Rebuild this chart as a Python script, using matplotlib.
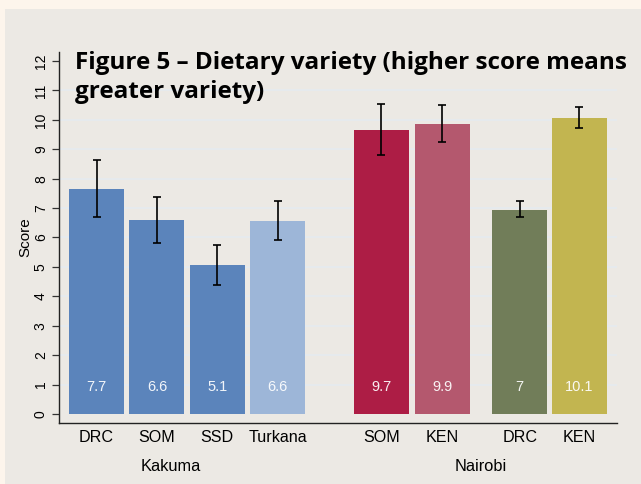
import matplotlib
matplotlib.use("Agg")
import matplotlib.pyplot as plt
from matplotlib.patches import Rectangle

# ---- data ----
groups = ["Kakuma", "Nairobi"]
categories = ["DRC", "SOM", "SSD", "Turkana", "SOM", "KEN", "DRC", "KEN"]
category_group = ["Kakuma", "Kakuma", "Kakuma", "Kakuma", "Nairobi", "Nairobi", "Nairobi", "Nairobi"]
scores = [7.64, 6.59, 5.06, 6.56, 9.66, 9.86, 6.94, 10.06]
score_labels = ["7.7", "6.6", "5.1", "6.6", "9.7", "9.9", "7", "10.1"]
ci_low = [6.70, 5.81, 4.38, 5.90, 8.82, 9.25, 6.68, 9.71]
ci_high = [8.62, 7.39, 5.73, 7.25, 10.54, 10.51, 7.24, 10.42]
yticks = list(range(0, 13))

# ---- styles ----
colors = ["#5b84bb", "#5b84bb", "#5b84bb", "#9db6d8",
          "#ad1d45", "#b4586e", "#717d59", "#c2b550"]
# layout: slot positions of bars
positions = [0, 1, 2, 3, 4.72, 5.73, 7.01, 8.0]
bar_width = 0.91
group_label_x = {"Kakuma": 1.23, "Nairobi": 6.36}

W, H = 641, 484
fig = plt.figure(figsize=(W / 100, H / 100), dpi=100)
fig.patch.set_facecolor("#fdf5ec")
fig.patches.append(Rectangle((5 / W, 0), 1 - 5 / W, 1 - 9 / H,
                             transform=fig.transFigure, facecolor="#ece9e4",
                             edgecolor="none", zorder=-10))

ax = fig.add_axes([59 / W, 1 - 423 / H, (617 - 59) / W, (423 - 52) / H])
ax.set_zorder(5)
ax.set_facecolor("none")

font = "Liberation Sans"

for yv in yticks[1:-1]:
    ax.axhline(yv, color="#e6ebee", lw=1.4, zorder=1)

yerr_lo = [s - l for s, l in zip(scores, ci_low)]
yerr_hi = [h - s for s, h in zip(scores, ci_high)]
ax.bar(positions, scores, width=bar_width, color=colors, zorder=2)
ax.errorbar(positions, scores, yerr=[yerr_lo, yerr_hi], fmt="none",
            ecolor="black", elinewidth=1.2, capsize=3.2, capthick=1.2, zorder=3)

for x, lab in zip(positions, score_labels):
    ax.text(x, 0.92, lab, ha="center", va="center", color="white", alpha=0.92,
            fontsize=10.5, family=font, zorder=4)

ax.set_xlim(positions[0] - 0.622, positions[-1] + 0.622)
ax.set_ylim(-0.306, 12.306)
ax.set_yticks(yticks)
ax.set_yticklabels([str(v) for v in yticks], rotation=90, va="center",
                   fontsize=10, family=font)
ax.tick_params(axis="y", length=5, width=0.9, pad=3, color="#333333")
ax.set_xticks(positions)
ax.set_xticklabels(categories, fontsize=11.6, family=font)
ax.tick_params(axis="x", length=0, pad=5)
for sp in ["top", "right"]:
    ax.spines[sp].set_visible(False)
for sp in ["left", "bottom"]:
    ax.spines[sp].set_linewidth(1.0)
    ax.spines[sp].set_color("#222222")

ax.set_ylabel("Score", fontsize=11, family=font, labelpad=1)

for g in groups:
    ax.text(group_label_x[g], -0.306 - 36 / 29.42, g,
            ha="center", va="top", fontsize=11.8, family=font, clip_on=False)

fig.text(75 / W, 1 - 69 / H, "Figure 5 \u2013 Dietary variety (higher score means",
         fontsize=17.5, fontweight="bold", family="Open Sans", va="baseline", ha="left",
         zorder=20)
fig.text(75 / W, 1 - 98 / H, "greater variety)",
         fontsize=17.5, fontweight="bold", family="Open Sans", va="baseline", ha="left",
         zorder=20)

fig.savefig("out.png", dpi=100, facecolor=fig.get_facecolor())
